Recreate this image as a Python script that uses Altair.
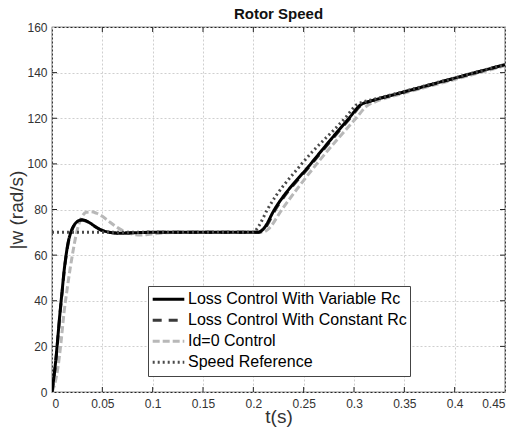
import altair as alt
import pandas as pd

series_names = [
    "Loss Control With Variable Rc",
    "Loss Control With Constant Rc",
    "Id=0 Control",
    "Speed Reference",
]
series_colors = ["#000000", "#3a3a3a", "#b8b8b8", "#4a4a4a"]
series_dashes = [[1, 0], [9, 7], [7, 3], [2, 3]]

# Loss control with variable Rc (solid black)
t_var = [0, 0.002, 0.004, 0.006, 0.008, 0.010, 0.012, 0.014, 0.016, 0.018, 0.020, 0.023,
         0.026, 0.030, 0.034, 0.038, 0.043, 0.048, 0.054, 0.060, 0.068, 0.080, 0.100, 0.150,
         0.2045, 0.210, 0.221, 0.257, 0.295, 0.307, 0.312, 0.320, 0.350, 0.400, 0.450]
w_var = [0, 7, 15, 25, 35, 44, 53, 60, 65.5, 69, 71.5, 73.8, 75, 75.5, 75, 74, 72.5, 71.2,
         70.3, 69.8, 69.6, 69.8, 70, 70, 70, 71.5, 80, 100, 120, 126, 127, 128, 131.6, 137.6, 143.5]

# Loss control with constant Rc (dark dashed)
t_con = [0, 0.002, 0.004, 0.006, 0.008, 0.010, 0.012, 0.014, 0.016, 0.018, 0.020, 0.023,
         0.026, 0.030, 0.034, 0.038, 0.043, 0.048, 0.054, 0.060, 0.068, 0.080, 0.100, 0.150,
         0.2055, 0.211, 0.222, 0.258, 0.296, 0.308, 0.313, 0.320, 0.350, 0.400, 0.450]
w_con = [0, 6.5, 14.5, 24.5, 34.5, 43.5, 52.5, 59.5, 65, 68.7, 71.2, 73.6, 74.8, 75.3, 74.9, 73.9, 72.4, 71.1,
         70.3, 69.8, 69.6, 69.8, 70, 70, 70, 71.5, 80, 100, 120, 126, 127, 128, 131.5, 137.5, 143.4]

# Id=0 control (light grey dashed)
t_id0 = [0, 0.003, 0.006, 0.009, 0.012, 0.015, 0.018, 0.021, 0.024, 0.027, 0.030, 0.034,
         0.039, 0.044, 0.050, 0.056, 0.062, 0.068, 0.074, 0.080, 0.088, 0.095, 0.105, 0.120,
         0.150, 0.200, 0.209, 0.215, 0.2284, 0.263, 0.302, 0.313, 0.320, 0.350, 0.400, 0.450]
w_id0 = [0, 4, 11, 22, 35, 45, 54, 62, 69, 74, 77, 78.8, 79, 78.4, 77, 75, 73, 71.3, 70,
         69.2, 68.8, 69, 69.5, 69.9, 70, 70, 70, 71.5, 80, 100, 120, 125.5, 127, 131, 137, 143]

# Speed reference (dotted)
t_ref = [0, 0.200, 0.205, 0.214, 0.248, 0.291, 0.303, 0.308, 0.320, 0.350, 0.400, 0.450]
w_ref = [70, 70, 72.5, 80, 100, 120, 126, 127, 128.3, 131.8, 137.7, 143.6]

x_tick_values = [0, 0.05, 0.1, 0.15, 0.2, 0.25, 0.3, 0.35, 0.4, 0.45]
y_tick_values = [0, 20, 40, 60, 80, 100, 120, 140, 160]

W, H = 453, 365
FONT = "Liberation Sans"


def frame(name, t, w):
    return pd.DataFrame({"t": t, "w": w, "series": name})


frames = [
    frame(series_names[0], t_var, w_var),
    frame(series_names[1], t_con, w_con),
    frame(series_names[2], t_id0, w_id0),
    frame(series_names[3], t_ref, w_ref),
]

xs = alt.Scale(domain=[0, 0.45], nice=False, zero=False)
ys = alt.Scale(domain=[0, 160], nice=False)

x_axis = alt.Axis(
    values=x_tick_values, format="~g", ticks=False, domain=False,
    grid=True, gridColor="#cfcfcf", gridDash=[2, 2], gridWidth=1,
    labelFont=FONT, labelFontSize=12, labelColor="#333333", labelPadding=6,
    title="t(s)", titleFont=FONT, titleFontSize=19, titleFontWeight="normal",
    titleColor="#333333", titleY=24, titleBaseline="middle",
)
y_axis = alt.Axis(
    values=y_tick_values, ticks=False, domain=False,
    grid=True, gridColor="#cfcfcf", gridDash=[2, 2], gridWidth=1,
    labelFont=FONT, labelFontSize=12, labelColor="#333333", labelPadding=5,
    title="|w (rad/s)", titleFont=FONT, titleFontSize=19, titleFontWeight="normal",
    titleColor="#333333", titleX=-36, titleY=H / 2, titleBaseline="middle",
    titleAlign="center", titleAngle=270,
)

legend = alt.Legend(
    title=None, orient="none", legendX=96, legendY=259,
    symbolType="stroke", symbolSize=1000, symbolStrokeWidth=3,
    labelFont=FONT, labelFontSize=16, labelColor="#000000", labelLimit=400,
    strokeColor="#444444", fillColor="#ffffff", padding=3, rowPadding=0,
    clipHeight=20.5, labelOffset=2, cornerRadius=0,
)

color = alt.Color("series:N", scale=alt.Scale(domain=series_names, range=series_colors), legend=legend)
dash = alt.StrokeDash("series:N", scale=alt.Scale(domain=series_names, range=series_dashes), legend=legend)

draw_order = [2, 1, 0, 3]
layers = []
for i in draw_order:
    layers.append(
        alt.Chart(frames[i]).mark_line(strokeWidth=3, interpolate="monotone", clip=True).encode(
            x=alt.X("t:Q", scale=xs, axis=x_axis),
            y=alt.Y("w:Q", scale=ys, axis=y_axis),
            color=color,
            strokeDash=dash,
        )
    )

xt = pd.DataFrame({"t": x_tick_values[1:-1]})
yt = pd.DataFrame({"w": y_tick_values[1:-1]})
tick_bottom = alt.Chart(xt).mark_rule(color="#222222", strokeWidth=1).encode(
    x=alt.X("t:Q", scale=xs), y=alt.value(H), y2=alt.value(H - 5))
tick_top = alt.Chart(xt).mark_rule(color="#222222", strokeWidth=1).encode(
    x=alt.X("t:Q", scale=xs), y=alt.value(0), y2=alt.value(5))
tick_left = alt.Chart(yt).mark_rule(color="#222222", strokeWidth=1).encode(
    y=alt.Y("w:Q", scale=ys), x=alt.value(0), x2=alt.value(5))
tick_right = alt.Chart(yt).mark_rule(color="#222222", strokeWidth=1).encode(
    y=alt.Y("w:Q", scale=ys), x=alt.value(W), x2=alt.value(W - 5))

chart = alt.layer(*layers, tick_bottom, tick_top, tick_left, tick_right).properties(
    width=W, height=H,
    title=alt.TitleParams("Rotor Speed", font=FONT, fontSize=15, fontWeight="bold",
                          color="#111111", anchor="middle", offset=-1),
    autosize=alt.AutoSizeParams(type="none"),
    padding={"left": 52, "top": 27, "right": 26, "bottom": 43},
    background="#ffffff",
).configure_view(stroke="#222222", strokeWidth=1.2)

chart.save("out.html", embed_options={"renderer": "svg", "actions": False})
